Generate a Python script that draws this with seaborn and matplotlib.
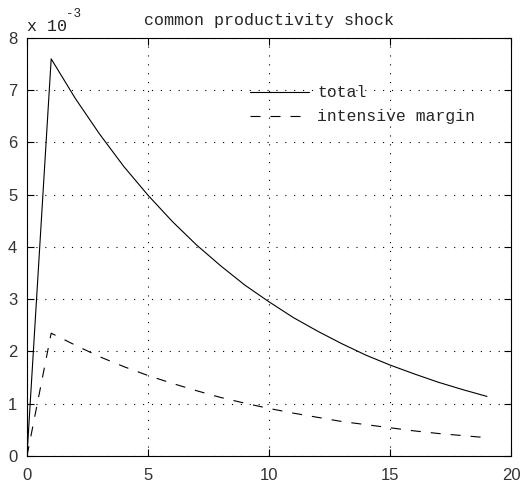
import matplotlib
matplotlib.use("Agg")
import matplotlib.pyplot as plt
import seaborn as sns
import pandas as pd

periods = list(range(20))
total = [0.0, 7.60, 6.84, 6.16, 5.54, 4.99, 4.49, 4.04, 3.64, 3.27, 2.95,
         2.65, 2.39, 2.15, 1.93, 1.74, 1.57, 1.41, 1.27, 1.14]
intensive = [0.0, 2.35, 2.12, 1.90, 1.71, 1.54, 1.39, 1.25, 1.12, 1.01, 0.91,
             0.82, 0.74, 0.66, 0.60, 0.54, 0.48, 0.43, 0.39, 0.35]
series_names = ["total", "intensive margin"]
xticks = [0, 5, 10, 15, 20]
yticks = [0, 1, 2, 3, 4, 5, 6, 7, 8]

df = pd.DataFrame({
    "period": periods * 2,
    "value": total + intensive,
    "series": [series_names[0]] * len(periods) + [series_names[1]] * len(periods),
})

sns.set_style("ticks")
fig = plt.figure(figsize=(5.28, 4.88), dpi=100)
ax = fig.add_axes([0.0511, 0.0656, 0.9170, 0.8566])

sns.lineplot(data=df, x="period", y="value", hue="series", style="series",
             palette={"total": "black", "intensive margin": "black"},
             dashes={"total": "", "intensive margin": (9, 9)},
             linewidth=0.8, ax=ax, legend=True)

ax.set_xlim(0, 20)
ax.set_ylim(0, 8)
ax.set_xticks(xticks)
ax.set_yticks(yticks)
ax.set_xlabel("")
ax.set_ylabel("")
ax.grid(True, linestyle=(0, (1, 7)), color="black", linewidth=0.8)
for s in ax.spines.values():
    s.set_visible(True)
    s.set_linewidth(0.8)
    s.set_color("black")
ax.tick_params(direction="in", top=True, right=True, length=5, width=0.8,
               labelsize=12, colors="black")
ax.tick_params(axis="x", pad=9)
ax.tick_params(axis="y", pad=7)
for lab in ax.get_xticklabels() + ax.get_yticklabels():
    lab.set_family("Liberation Sans")
    lab.set_color("#333333")

ax.set_title("common productivity shock", family="Liberation Mono", fontsize=12, pad=9)
fig.text(27 / 528, (488 - 31) / 488, "x 10", family="Liberation Mono", fontsize=12,
         ha="left", va="baseline", color="#222222")
fig.text(66 / 528, (488 - 17) / 488, "-3", family="Liberation Mono", fontsize=9,
         ha="left", va="baseline", color="#222222")

leg = ax.legend(loc="upper left", bbox_to_anchor=(0.43, 0.922), frameon=False,
                handlelength=3.6, handletextpad=0.5, labelspacing=0.55,
                prop={"family": "Liberation Mono", "size": 11.8})

fig.savefig("out.png", dpi=100, facecolor="white")
